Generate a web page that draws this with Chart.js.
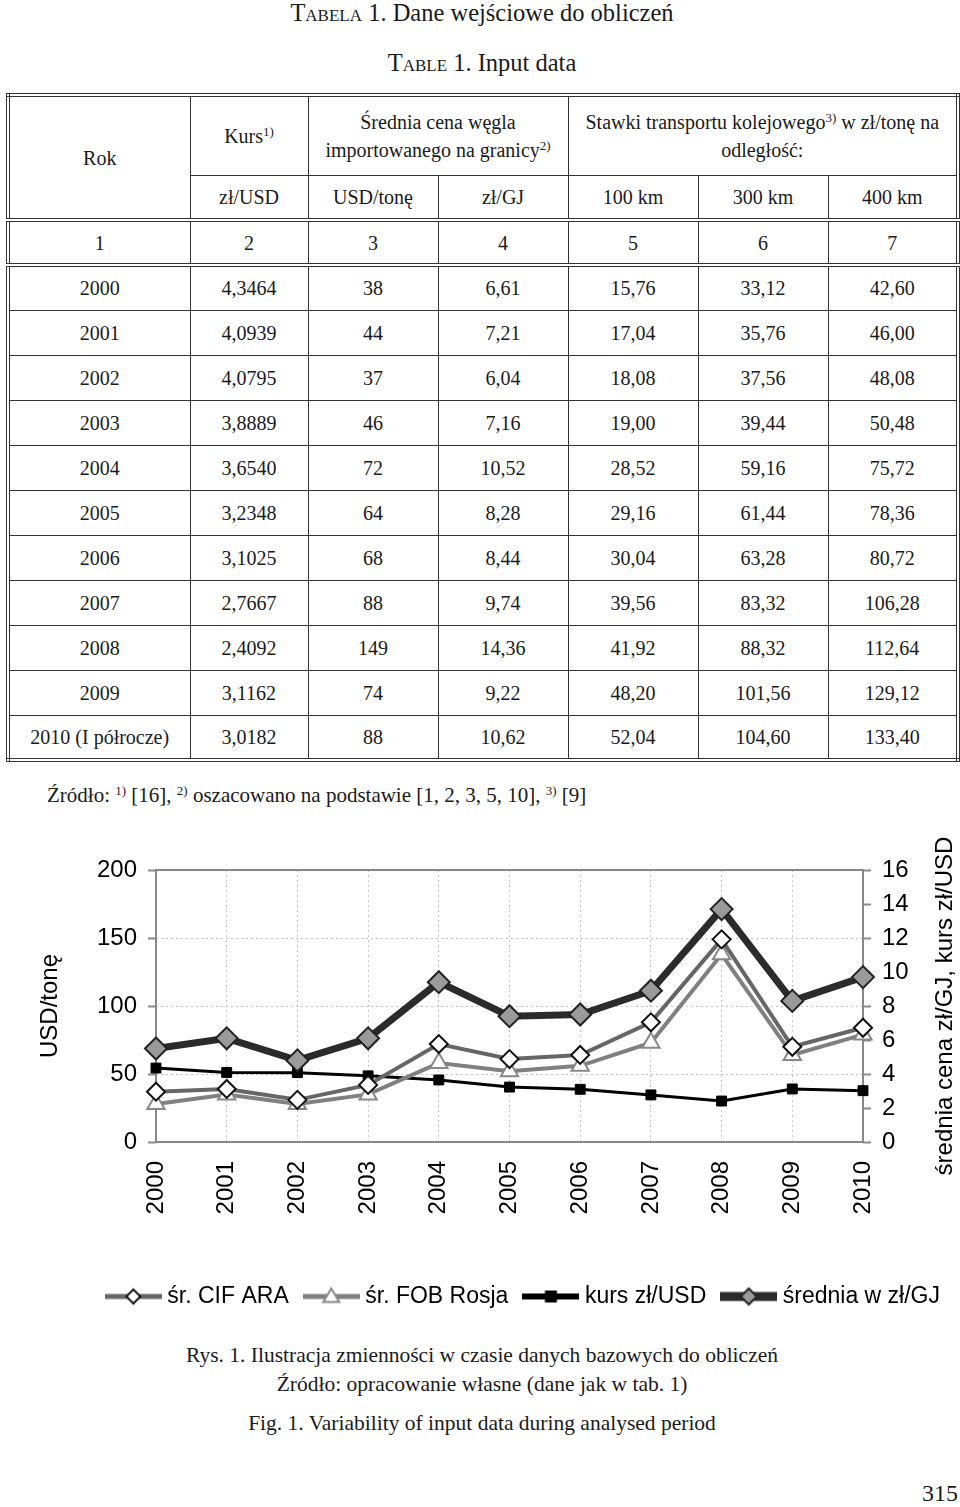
<!DOCTYPE html>
<html lang="pl">
<head>
<meta charset="utf-8">
<title>Tabela 1. Dane wejściowe do obliczeń</title>
<script src="https://cdn.jsdelivr.net/npm/chart.js@4.4.1/dist/chart.umd.min.js"></script>
<style>
    html, body { margin: 0; padding: 0; background: #fff; }
    body {
        width: 960px; height: 1507px; position: relative; overflow: hidden;
        font-family: 'Liberation Serif', 'Times New Roman', serif; color: #1a1a1a;
    }
    .line { position: absolute; left: 0; width: 964px; text-align: center; white-space: nowrap; font-size: 21.5px; line-height: 26px; }
    .title { font-size: 24.5px; }
    .sc { font-variant: small-caps; }
    sup { font-size: 13px; line-height: 0; vertical-align: 0.55em; }

    #data-table {
        position: absolute; left: 6px; top: 93px; width: 950px;
        border-collapse: collapse; table-layout: fixed;
        border: 4px double #333;
        font-size: 20px;
    }
    #data-table td {
        border: 1.5px solid #333; text-align: center; vertical-align: middle;
        padding: 0; line-height: 28px; white-space: nowrap;
    }
    #data-table tr { height: 45px; }
    #data-table tr.head1 { height: 80px; }
    #data-table tr.nums td { border-top: 4px double #333; border-bottom: 4px double #333; }

    #source { position: absolute; left: 47px; top: 782px; font-size: 21px; line-height: 26px; white-space: nowrap; }
    #chart-box { position: absolute; left: 0; top: 830px; width: 960px; height: 488px; }
    #page-no { position: absolute; right: 2px; top: 1479px; font-size: 24px; line-height: 28px; }
</style>
</head>
<body>

<div class="line title" style="top:0px"><span class="sc">Tabela</span> 1. Dane wejściowe do obliczeń</div>
<div class="line title" style="top:50px"><span class="sc">Table</span> 1. Input data</div>

<table id="data-table">
    <colgroup>
        <col style="width:182px"><col style="width:118px"><col style="width:130px"><col style="width:130px">
        <col style="width:130px"><col style="width:130px"><col style="width:130px">
    </colgroup>
    <tbody id="table-body">
        <tr class="head1">
            <td rowspan="2">Rok</td>
            <td>Kurs<sup>1)</sup></td>
            <td colspan="2">Średnia cena węgla<br>importowanego na granicy<sup>2)</sup></td>
            <td colspan="3">Stawki transportu kolejowego<sup>3)</sup> w zł/tonę na<br>odległość:</td>
        </tr>
        <tr>
            <td>zł/USD</td><td>USD/tonę</td><td>zł/GJ</td><td>100 km</td><td>300 km</td><td>400 km</td>
        </tr>
        <tr class="nums">
            <td>1</td><td>2</td><td>3</td><td>4</td><td>5</td><td>6</td><td>7</td>
        </tr>
    </tbody>
</table>

<div id="source">Źródło: <sup>1)</sup> [16], <sup>2)</sup> oszacowano na podstawie [1, 2, 3, 5, 10], <sup>3)</sup> [9]</div>

<div id="chart-box"><canvas id="mainChart"></canvas></div>

<div class="line" style="top:1342px">Rys. 1. Ilustracja zmienności w czasie danych bazowych do obliczeń</div>
<div class="line" style="top:1371px">Źródło: opracowanie własne (dane jak w tab. 1)</div>
<div class="line" style="top:1410px">Fig. 1. Variability of input data during analysed period</div>
<div id="page-no">315</div>

<script>
// Tabela 1
const tableYears = ['2000', '2001', '2002', '2003', '2004', '2005', '2006', '2007', '2008', '2009', '2010 (I półrocze)'];
const tableKurs = ['4,3464', '4,0939', '4,0795', '3,8889', '3,6540', '3,2348', '3,1025', '2,7667', '2,4092', '3,1162', '3,0182'];
const tableUsdTone = ['38', '44', '37', '46', '72', '64', '68', '88', '149', '74', '88'];
const tableZlGj = ['6,61', '7,21', '6,04', '7,16', '10,52', '8,28', '8,44', '9,74', '14,36', '9,22', '10,62'];
const table100km = ['15,76', '17,04', '18,08', '19,00', '28,52', '29,16', '30,04', '39,56', '41,92', '48,20', '52,04'];
const table300km = ['33,12', '35,76', '37,56', '39,44', '59,16', '61,44', '63,28', '83,32', '88,32', '101,56', '104,60'];
const table400km = ['42,60', '46,00', '48,08', '50,48', '75,72', '78,36', '80,72', '106,28', '112,64', '129,12', '133,40'];

// Rys. 1 (odczyt z wykresu)
const years = ['2000', '2001', '2002', '2003', '2004', '2005', '2006', '2007', '2008', '2009', '2010'];
const cifAra = [37, 39, 31, 42, 72, 61, 64, 88, 149, 70, 84];
const fobRosja = [28, 35, 28, 35, 58, 52, 56, 73, 138, 64, 79];
const kursZlUsd = [4.35, 4.09, 4.08, 3.89, 3.65, 3.23, 3.10, 2.77, 2.41, 3.12, 3.02];
const sredniaZlGj = [5.5, 6.1, 4.8, 6.1, 9.4, 7.4, 7.5, 8.9, 13.7, 8.3, 9.7];
const leftTitle = 'USD/tonę';
const rightTitle = 'średnia cena zł/GJ, kurs zł/USD';

function renderTable() {
    const tbody = document.getElementById('table-body');
    tbody.insertAdjacentHTML('beforeend', tableYears.map((y, i) => `
        <tr>
            <td>${y}</td><td>${tableKurs[i]}</td><td>${tableUsdTone[i]}</td><td>${tableZlGj[i]}</td>
            <td>${table100km[i]}</td><td>${table300km[i]}</td><td>${table400km[i]}</td>
        </tr>`).join(''));
}

// ikonka legendy: linia + znacznik
function legendIcon(lineColor, lineWidth, marker, size, fill, stroke) {
    const c = document.createElement('canvas');
    c.width = 57; c.height = 26;
    const g = c.getContext('2d');
    const cx = 28.5, cy = 13;
    g.strokeStyle = lineColor;
    g.lineWidth = lineWidth;
    g.beginPath(); g.moveTo(0, cy); g.lineTo(57, cy); g.stroke();
    g.beginPath();
    if (marker === 'diamond') {
        g.moveTo(cx, cy - size); g.lineTo(cx + size, cy); g.lineTo(cx, cy + size); g.lineTo(cx - size, cy);
    } else if (marker === 'triangle') {
        g.moveTo(cx, cy - size); g.lineTo(cx + size, cy + size * 0.7); g.lineTo(cx - size, cy + size * 0.7);
    } else {
        g.rect(cx - size, cy - size, size * 2, size * 2);
    }
    g.closePath();
    g.fillStyle = fill; g.fill();
    g.lineWidth = 2; g.strokeStyle = stroke; g.stroke();
    return c;
}

const plotFrame = {
    id: 'plotFrame',
    beforeDatasetsDraw(chart) {
        const { ctx, chartArea: a } = chart;
        ctx.save();
        ctx.strokeStyle = '#888';
        ctx.lineWidth = 2;
        ctx.strokeRect(a.left, a.top, a.right - a.left, a.bottom - a.top);
        ctx.restore();
    }
};

// tytuł prawej osi czytany od dołu do góry
const rightAxisTitle = {
    id: 'rightAxisTitle',
    afterDraw(chart) {
        const { ctx, chartArea, scales } = chart;
        ctx.save();
        ctx.translate(scales.y1.right - 15, (chartArea.top + chartArea.bottom) / 2);
        ctx.rotate(-Math.PI / 2);
        ctx.font = "24px 'Liberation Sans', Arial, sans-serif";
        ctx.fillStyle = '#000';
        ctx.textAlign = 'center';
        ctx.textBaseline = 'middle';
        ctx.fillText(rightTitle, 0, 0);
        ctx.restore();
    }
};

function renderChart() {
    Chart.defaults.font.family = "'Liberation Sans', Arial, sans-serif";
    Chart.defaults.color = '#000';

    const icons = [
        legendIcon('#666', 5, 'diamond', 7, '#fff', '#111'),
        legendIcon('#808080', 5, 'triangle', 8, '#fff', '#888'),
        legendIcon('#000', 6, 'square', 5, '#000', '#000'),
        legendIcon('#2b2b2b', 9, 'diamond', 8, '#9a9a9a', '#222')
    ];

    new Chart(document.getElementById('mainChart'), {
        type: 'line',
        data: {
            labels: years,
            datasets: [
                {
                    label: 'śr. CIF ARA', data: cifAra, yAxisID: 'y', order: 1,
                    borderColor: '#666', borderWidth: 4,
                    pointStyle: 'rectRot', pointRadius: 9,
                    pointBackgroundColor: '#fff', pointBorderColor: '#111', pointBorderWidth: 2
                },
                {
                    label: 'śr. FOB Rosja', data: fobRosja, yAxisID: 'y', order: 2,
                    borderColor: '#808080', borderWidth: 4,
                    pointStyle: 'triangle', pointRadius: 10,
                    pointBackgroundColor: '#fff', pointBorderColor: '#888', pointBorderWidth: 2
                },
                {
                    label: 'kurs zł/USD', data: kursZlUsd, yAxisID: 'y1', order: 3,
                    borderColor: '#000', borderWidth: 3,
                    pointStyle: 'rect', pointRadius: 7,
                    pointBackgroundColor: '#000', pointBorderColor: '#000', pointBorderWidth: 1
                },
                {
                    label: 'średnia w zł/GJ', data: sredniaZlGj, yAxisID: 'y1', order: 0,
                    borderColor: '#2b2b2b', borderWidth: 7,
                    pointStyle: 'rectRot', pointRadius: 11,
                    pointBackgroundColor: '#9a9a9a', pointBorderColor: '#222', pointBorderWidth: 2
                }
            ]
        },
        options: {
            responsive: true,
            maintainAspectRatio: false,
            animation: false,
            layout: { padding: { top: 40, left: 0, right: 0, bottom: 0 } },
            elements: { line: { tension: 0 } },
            plugins: {
                tooltip: { enabled: false },
                legend: {
                    position: 'bottom',
                    align: 'end',
                    labels: {
                        usePointStyle: true,
                        pointStyleWidth: 45,
                        padding: 20,
                        color: '#000',
                        font: { size: 23 },
                        generateLabels: (chart) => chart.data.datasets.map((ds, i) => ({
                            text: ds.label, pointStyle: icons[i], datasetIndex: i,
                            hidden: false, lineWidth: 0, fontColor: '#000'
                        }))
                    }
                }
            },
            scales: {
                x: {
                    type: 'category',
                    offset: false,
                    grid: { color: '#c4c4c4', lineWidth: 1, drawTicks: false },
                    border: { display: false, dash: [2, 3] },
                    ticks: { minRotation: 90, maxRotation: 90, autoSkip: false, padding: 19, font: { size: 24 } },
                    afterFit: (s) => { s.height = 123; }
                },
                y: {
                    position: 'left',
                    min: 0, max: 200,
                    grid: { color: '#c4c4c4', lineWidth: 1, tickColor: '#888', tickLength: 8, tickWidth: 2 },
                    border: { display: false, dash: [2, 3] },
                    ticks: { stepSize: 50, padding: 11, font: { size: 24 } },
                    title: { display: true, text: leftTitle, font: { size: 24 }, color: '#000', padding: { top: 36, bottom: 0 } },
                    afterFit: (s) => { s.width = 156; }
                },
                y1: {
                    position: 'right',
                    min: 0, max: 16,
                    grid: { drawOnChartArea: false, tickColor: '#888', tickLength: 8, tickWidth: 2 },
                    border: { display: false },
                    ticks: { stepSize: 2, padding: 11, font: { size: 24 } },
                    afterFit: (s) => { s.width = 97; }
                }
            }
        },
        plugins: [plotFrame, rightAxisTitle]
    });
}

document.addEventListener('DOMContentLoaded', () => {
    renderTable();
    renderChart();
});
</script>
</body>
</html>
